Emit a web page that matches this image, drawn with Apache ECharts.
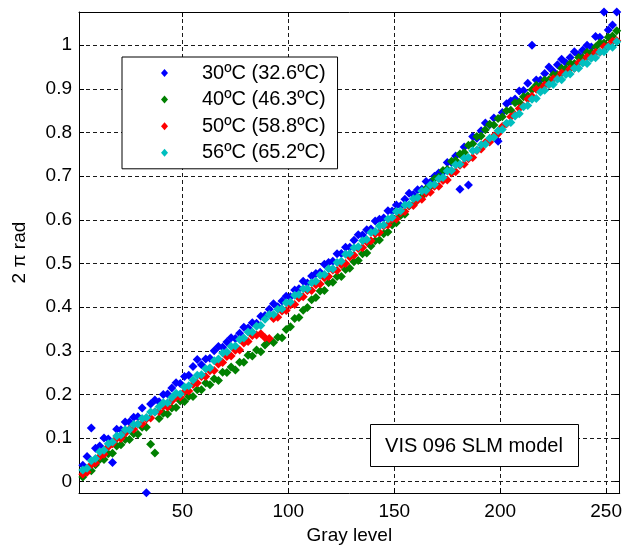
<!DOCTYPE html>
<html>
<head>
<meta charset="utf-8">
<script src="https://cdn.jsdelivr.net/npm/echarts/dist/echarts.min.js"></script>
<style>html,body{margin:0;padding:0;background:#fff}#c{width:625px;height:550px}</style>
</head>
<body>
<div id="c"></div>
<script>
const grayLevels = [1,3,5,7,9,11,13,15,17,19,21,23,25,27,29,31,33,35,37,39,41,43,45,47,49,51,53,55,57,59,61,63,65,67,69,71,73,75,77,79,81,83,85,87,89,91,93,95,97,99,101,103,105,107,109,111,113,115,117,119,121,123,125,127,129,131,133,135,137,139,141,143,145,147,149,151,153,155,157,159,161,163,165,167,169,171,173,175,177,179,181,183,185,187,189,191,193,195,197,199,201,203,205,207,209,211,213,215,217,219,221,223,225,227,229,231,233,235,237,239,241,243,245,247,249,251,253,255];

const xTicks = [50, 100, 150, 200, 250];
const yTicks = [0, 0.1, 0.2, 0.3, 0.4, 0.5, 0.6, 0.7, 0.8, 0.9, 1];

const seriesNames = ['30ºC (32.6ºC)', '40ºC (46.3ºC)', '50ºC (58.8ºC)', '56ºC (65.2ºC)'];

const phase30 = [.032,.038,.058,.123,.077,.082,.100,.098,.044,.120,
.119,.137,.137,.148,.149,.169,-.025,.178,.187,.183,
.200,.201,.215,.227,.225,.241,.244,.264,.280,.268,
.281,.283,.300,.310,.308,.320,.330,.328,.340,.354,
.352,.364,.363,.379,.381,.395,.408,.401,.414,.425,
.424,.439,.442,.459,.455,.471,.477,.480,.498,.502,
.505,.522,.523,.537,.537,.553,.566,.565,.577,.579,
.597,.601,.604,.621,.620,.634,.632,.647,.661,.658,
.669,.670,.688,.686,.700,.707,.709,.731,.731,.746,
.670,.767,.680,.791,.787,.804,.822,.818,.833,.780,
.846,.866,.872,.877,.895,.896,.913,1.000,.920,.920,
.935,.950,.940,.955,.968,.960,.972,.985,.978,.989,
1.000,.996,1.020,1.018,1.076,1.035,1.046,1.076];

const phase40 = [.006,.011,.024,.025,.039,.051,.051,.064,.065,.082,
.085,.097,.097,.110,.109,.125,.125,.086,.066,.145,
.157,.155,.169,.170,.185,.184,.195,.195,.211,.211,
.226,.222,.236,.232,.251,.250,.263,.256,.274,.274,
.290,.288,.302,.298,.313,.323,.319,.331,.330,.349,
.355,.374,.376,.393,.399,.417,.422,.437,.438,.456,
.457,.470,.470,.486,.489,.504,.507,.522,.524,.540,
.552,.554,.568,.572,.588,.593,.610,.613,.632,.635,
.651,.654,.671,.676,.694,.698,.713,.715,.734,.736,
.751,.754,.771,.774,.791,.792,.806,.819,.817,.832,
.836,.850,.851,.868,.869,.882,.884,.898,.908,.907,
.920,.921,.932,.932,.947,.946,.958,.958,.972,.972,
.984,.983,.996,1.005,1.005,1.018,1.021,1.033];

const phase50 = [.001,.017,.022,.039,.043,.058,.063,.080,.087,.099,
.099,.111,.120,.120,.132,.132,.144,.146,.160,.161,
.173,.171,.185,.194,.194,.206,.208,.223,.226,.241,
.241,.254,.255,.270,.273,.287,.288,.301,.302,.318,
.321,.335,.336,.339,.330,.328,.374,.377,.391,.392,
.405,.406,.421,.424,.438,.438,.451,.453,.467,.470,
.485,.484,.497,.500,.515,.519,.534,.536,.549,.552,
.568,.571,.586,.588,.601,.602,.617,.619,.632,.633,
.645,.647,.661,.663,.677,.677,.690,.691,.707,.710,
.725,.727,.740,.743,.759,.762,.777,.778,.792,.797,
.814,.820,.836,.840,.855,.860,.877,.883,.899,.898,
.909,.910,.923,.924,.936,.935,.946,.947,.960,.961,
.973,.972,.984,.984,.997,.998,1.009,1.010];

const phase56 = [.012,.027,.031,.048,.053,.069,.072,.087,.091,.105,
.107,.119,.119,.131,.132,.145,.147,.160,.160,.172,
.181,.181,.193,.203,.201,.217,.220,.233,.244,.245,
.259,.261,.277,.281,.295,.297,.310,.311,.326,.329,
.343,.343,.356,.358,.372,.383,.383,.395,.396,.410,
.412,.427,.429,.442,.442,.456,.459,.473,.475,.488,
.488,.502,.505,.521,.523,.536,.538,.552,.555,.571,
.573,.586,.588,.602,.605,.619,.621,.634,.635,.648,
.651,.666,.667,.680,.681,.694,.697,.712,.713,.726,
.727,.741,.743,.758,.760,.772,.773,.787,.789,.804,
.807,.821,.823,.838,.843,.859,.862,.876,.878,.893,
.897,.910,.910,.922,.921,.933,.934,.947,.947,.959,
.958,.970,.971,.984,.985,.996,.995,1.008];

const seriesValues = [phase30, phase40, phase50, phase56];
const seriesColors = ['#0000ff', '#008000', '#ff0000', '#00bfbf'];

const FONT = '"Liberation Sans", Arial, sans-serif';
const X_MIN = 1.2, X_MAX = 256.4, Y_MIN = -0.026, Y_MAX = 1.076;

const chart = echarts.init(document.getElementById('c'), null, {renderer: 'canvas'});

const gridDash = {show: true, lineStyle: {color: '#1a1a1a', width: 1, type: [4, 3]}};

const option = {
  backgroundColor: '#fff',
  animation: false,
  grid: {left: 79, right: 2, top: 12, bottom: 49, containLabel: false},
  xAxis: [{
    type: 'value', min: X_MIN, max: X_MAX, position: 'bottom',
    name: 'Gray level', nameLocation: 'middle', nameGap: 30,
    nameTextStyle: {fontSize: 19, fontFamily: FONT, color: '#000'},
    axisLine: {show: true, onZero: false, lineStyle: {color: '#000', width: 1}},
    axisTick: {show: true, inside: true, length: 5, customValues: xTicks, lineStyle: {color: '#000'}},
    axisLabel: {show: true, customValues: xTicks, margin: 9, fontSize: 19, fontFamily: FONT, color: '#000'},
    splitLine: gridDash
  }, {
    type: 'value', min: X_MIN, max: X_MAX, position: 'top',
    axisLine: {show: true, onZero: false, lineStyle: {color: '#000', width: 1}},
    axisTick: {show: true, inside: true, length: 5, customValues: xTicks, lineStyle: {color: '#000'}},
    axisLabel: {show: false},
    splitLine: {show: false}
  }],
  yAxis: [{
    type: 'value', min: Y_MIN, max: Y_MAX, position: 'left',
    name: '2 π rad', nameLocation: 'middle', nameGap: 50, nameRotate: 90,
    nameTextStyle: {fontSize: 19, fontFamily: FONT, color: '#000'},
    axisLine: {show: true, onZero: false, lineStyle: {color: '#000', width: 1}},
    axisTick: {show: true, inside: true, length: 5, customValues: yTicks, lineStyle: {color: '#000'}},
    axisLabel: {show: true, customValues: yTicks, margin: 7, fontSize: 19, fontFamily: FONT, color: '#000'},
    splitLine: gridDash
  }, {
    type: 'value', min: Y_MIN, max: Y_MAX, position: 'right',
    axisLine: {show: true, onZero: false, lineStyle: {color: '#000', width: 1}},
    axisTick: {show: true, inside: true, length: 5, customValues: yTicks, lineStyle: {color: '#000'}},
    axisLabel: {show: false},
    splitLine: {show: false}
  }],
  legend: {
    orient: 'vertical', left: 122, top: 57,
    padding: [6, 12, 6, 39], itemGap: 6.6, itemWidth: 7, itemHeight: 8,
    backgroundColor: '#fff', borderColor: '#000', borderWidth: 1, borderRadius: 0,
    textStyle: {fontSize: 20, fontFamily: FONT, color: '#000', padding: [0, 0, 0, 29]},
    data: seriesNames.map(n => ({name: n, icon: 'diamond'}))
  },
  graphic: [{
    type: 'rect', z: 10,
    shape: {x: 370.5, y: 424.5, width: 208, height: 42},
    style: {fill: '#fff', stroke: '#000', lineWidth: 1}
  }, {
    type: 'text', z: 11, x: 474, y: 446,
    style: {text: 'VIS 096 SLM model', fontSize: 20, fontFamily: FONT, fill: '#000', align: 'center', verticalAlign: 'middle'}
  }],
  series: seriesNames.map((name, k) => ({
    name: name,
    type: 'scatter',
    xAxisIndex: 0, yAxisIndex: 0,
    symbol: 'diamond',
    symbolSize: [9, 9],
    itemStyle: {color: seriesColors[k], opacity: 1},
    emphasis: {disabled: true},
    data: grayLevels.map((g, i) => [g, seriesValues[k][i]])
  }))
};

chart.setOption(option);
</script>
</body>
</html>
